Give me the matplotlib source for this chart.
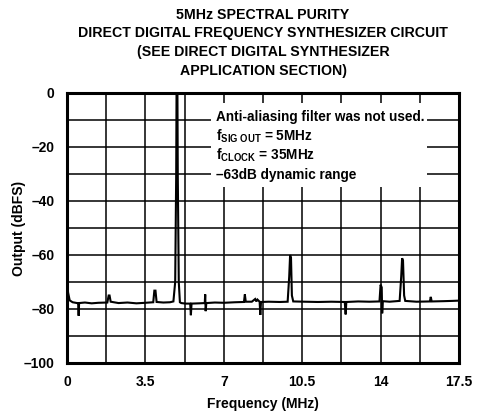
import matplotlib
matplotlib.use("Agg")
import matplotlib.pyplot as plt
from matplotlib.patches import Rectangle

plt.rcParams['font.family'] = ['Liberation Sans', 'DejaVu Sans']
plt.rcParams['font.weight'] = 'bold'
plt.rcParams['mathtext.fontset'] = 'custom'
plt.rcParams['mathtext.rm'] = 'Liberation Sans:bold'
plt.rcParams['mathtext.it'] = 'Liberation Sans:bold'
plt.rcParams['mathtext.bf'] = 'Liberation Sans:bold'

# Spectrum trace (frequency MHz, level dBFS)
freq_mhz = [0.00, 0.05, 0.12, 0.25, 0.45, 0.50, 0.52, 0.54, 0.80, 1.10, 1.40,
            1.80, 1.86, 1.90, 1.95, 2.30, 2.70, 3.10, 3.50, 3.85, 3.90, 3.95,
            4.00, 4.30, 4.60, 4.75, 4.83, 4.875, 4.89, 4.93, 4.945, 4.99, 5.04,
            5.10, 5.30, 5.50, 5.53, 5.56, 5.90, 6.15, 6.17, 6.19, 6.22, 6.60,
            7.00, 7.50, 7.90, 7.94, 7.98, 8.25, 8.40, 8.45, 8.50, 8.60, 8.63,
            8.66, 9.00, 9.50, 9.85, 9.92, 9.96, 10.00, 10.04, 10.10, 10.60,
            11.20, 11.80, 12.40, 12.44, 12.47, 13.00, 13.50, 13.95, 14.00,
            14.05, 14.07, 14.10, 14.40, 14.85, 14.92, 14.96, 15.00, 15.05,
            15.10, 15.60, 16.20, 16.24, 16.28, 16.80, 17.20, 17.50]
level_db = [-70.0, -74.0, -76.8, -77.5, -77.8, -77.8, -82.5, -77.8, -77.6, -77.9, -77.7,
            -77.6, -75.0, -75.0, -77.3, -77.8, -77.6, -77.9, -77.7, -77.5, -73.2, -73.2,
            -77.4, -77.6, -77.5, -77.2, -70.0, -30.0, 0.0, 0.0, -30.0, -70.0, -77.5,
            -77.8, -78.0, -78.0, -82.3, -78.0, -77.9, -77.8, -74.6, -80.8, -77.8, -77.6,
            -77.7, -77.5, -77.4, -74.6, -77.3, -77.3, -76.3, -77.2, -76.5, -77.3, -82.2,
            -77.4, -77.3, -77.4, -77.3, -68.0, -60.0, -61.0, -75.0, -77.2, -77.3,
            -77.4, -77.3, -77.4, -82.0, -77.4, -77.2, -77.3, -77.2, -71.0,
            -72.0, -81.6, -77.1, -77.3, -77.0, -68.0, -61.2, -62.0, -75.0,
            -77.0, -77.3, -77.2, -75.5, -77.2, -77.1, -77.0, -76.9]

x_ticks = [0, 3.5, 7, 10.5, 14, 17.5]
x_tick_labels = ['0', '3.5', '7', '10.5', '14', '17.5']
y_ticks = [0, -20, -40, -60, -80, -100]
y_tick_labels = ['0', '–20', '–40', '–60', '–80', '–100']
x_grid = [1.75 * i for i in range(11)]
y_grid = [-10 * i for i in range(11)]

title_lines = ['5MHz SPECTRAL PURITY',
               'DIRECT DIGITAL FREQUENCY SYNTHESIZER CIRCUIT',
               '(SEE DIRECT DIGITAL SYNTHESIZER',
               'APPLICATION SECTION)']
note_lines = ['Anti-aliasing filter was not used.',
              r'f$_{\mathrm{SIG\ OUT}}$ = 5MHz',
              r'f$_{\mathrm{CLOCK}}$ = 35MHz',
              '–63dB dynamic range']

W, H = 480, 413
fig = plt.figure(figsize=(W / 100, H / 100), dpi=100)
ax = fig.add_axes([67 / W, 1 - 363 / H, (459 - 67) / W, (363 - 93) / H])

ax.set_xlim(0, 17.5)
ax.set_ylim(-100, 0)
for xg in x_grid:
    ax.axvline(xg, color='black', lw=1.1, zorder=1)
for yg in y_grid:
    ax.axhline(yg, color='black', lw=1.1, zorder=1)

ax.add_patch(Rectangle((6.42, -34.8), 16.05 - 6.42, 34.8 - 3.7,
                       facecolor='white', edgecolor='none', zorder=2))

ax.plot(freq_mhz, level_db, color='black', lw=1.5, zorder=3,
        solid_joinstyle='miter', clip_on=True)

for i, line in enumerate(note_lines):
    ax.text(6.65, -8.9 - 7.1 * i, line, fontsize=9.8, fontweight='bold',
            ha='left', va='center', zorder=4)

ax.set_xticks(x_ticks)
ax.set_xticklabels(x_tick_labels)
ax.set_yticks(y_ticks)
ax.set_yticklabels(y_tick_labels)
ax.tick_params(length=0, pad=9, labelsize=10)
for lab in ax.get_xticklabels() + ax.get_yticklabels():
    lab.set_fontweight('bold')
for sp in ax.spines.values():
    sp.set_linewidth(2.2)
    sp.set_zorder(5)

ax.set_xlabel('Frequency (MHz)', fontsize=10, fontweight='bold')
ax.set_ylabel('Output (dBFS)', fontsize=10, fontweight='bold')
ax.xaxis.set_label_coords(0.5, -0.152)
ax.yaxis.set_label_coords(-0.122, 0.5)
ax.xaxis.label.set_va('center')
ax.yaxis.label.set_va('center')

for i, line in enumerate(title_lines):
    fig.text(263 / W, 1 - (15 + 18.5 * i) / H, line, fontsize=10.2,
             fontweight='bold', ha='center', va='center')

fig.savefig('out.png', dpi=100)
